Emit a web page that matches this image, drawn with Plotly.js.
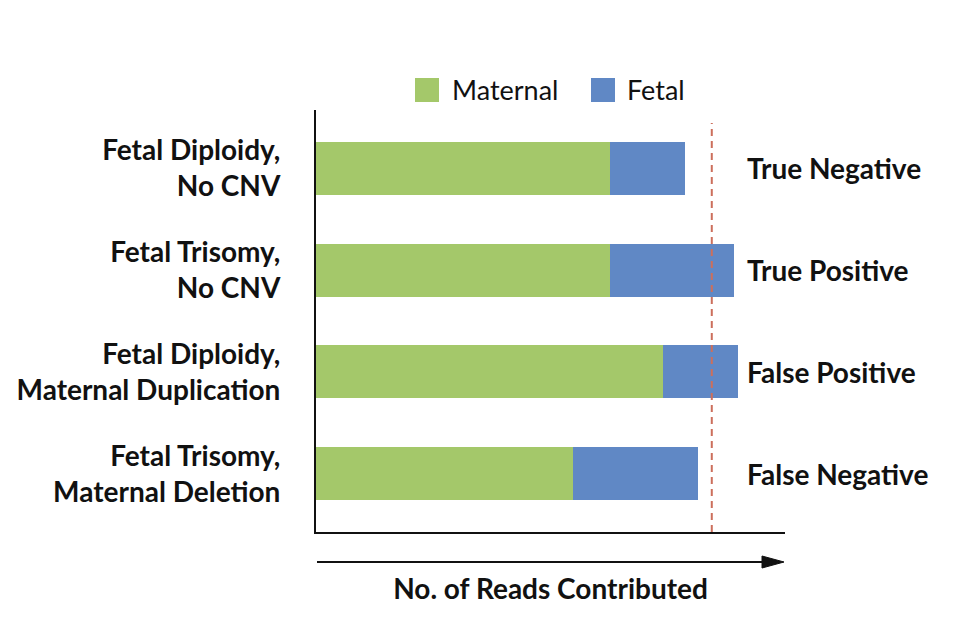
<!DOCTYPE html>
<html>
<head>
<meta charset="utf-8">
<script src="https://cdn.plot.ly/plotly-3.0.1.min.js"></script>
<style>html,body{margin:0;padding:0;background:#fff;}#chart{width:957px;height:619px;}</style>
</head>
<body>
<div id="chart"></div>
<script>
// Data (arbitrary read-count units; maternal baseline = 100)
const categories = [
  "Fetal Diploidy,<br>No CNV",
  "Fetal Trisomy,<br>No CNV",
  "Fetal Diploidy,<br>Maternal Duplication",
  "Fetal Trisomy,<br>Maternal Deletion"
];
const maternalReads = [100, 100, 118, 87.5];
const fetalReads = [25.5, 42.3, 25.5, 42.3];
const outcomes = ["True Negative", "True Positive", "False Positive", "False Negative"];
const threshold = 134.6;
const xMax = 159.5;
const seriesNames = ["Maternal", "Fetal"];
const xTitle = "No. of Reads Contributed";

const FONT = "Lato, 'Open Sans', sans-serif";
const GREEN = "#a4c86a";
const BLUE = "#6088c5";

const traces = [
  {type: "bar", orientation: "h", name: seriesNames[0], y: categories, x: maternalReads,
   marker: {color: GREEN}, hoverinfo: "x+name"},
  {type: "bar", orientation: "h", name: seriesNames[1], y: categories, x: fetalReads,
   marker: {color: BLUE}, hoverinfo: "x+name"}
];

// pixel -> paper helpers (plot area: x 316..785, y 110..532)
const L = 316, R = 785, T = 110, B = 532;
const px = v => (v - L) / (R - L);
const py = v => (B - v) / (B - T);

const annotations = outcomes.map((t, i) => ({
  x: px(745), xref: "paper", xanchor: "left",
  y: categories[i], yref: "y", yanchor: "middle",
  text: "<b>" + t + "</b>", showarrow: false,
  font: {family: FONT, size: 28, color: "#111"}
}));
// legend text
annotations.push({x: px(450), y: py(89), xref: "paper", yref: "paper", xanchor: "left", yanchor: "middle",
  text: seriesNames[0], showarrow: false, font: {family: FONT, size: 27, color: "#111"}});
annotations.push({x: px(625), y: py(89), xref: "paper", yref: "paper", xanchor: "left", yanchor: "middle",
  text: seriesNames[1], showarrow: false, font: {family: FONT, size: 27, color: "#111"}});

const shapes = [
  // threshold line
  {type: "line", xref: "x", yref: "paper", x0: threshold, x1: threshold, y0: 0, y1: py(123),
   line: {color: "#cc6f5c", width: 2, dash: "7px,5px"}},
  // legend squares
  {type: "rect", xref: "paper", yref: "paper", x0: px(415), x1: px(439), y0: py(102), y1: py(78),
   fillcolor: GREEN, line: {width: 0}},
  {type: "rect", xref: "paper", yref: "paper", x0: px(591), x1: px(615), y0: py(102), y1: py(78),
   fillcolor: BLUE, line: {width: 0}},
  // arrow shaft
  {type: "line", xref: "paper", yref: "paper", x0: px(317), x1: px(765), y0: py(562), y1: py(562),
   line: {color: "#111", width: 2}},
  // arrow head
  {type: "path", xref: "paper", yref: "paper",
   path: "M" + px(762) + "," + py(556) + " L" + px(784) + "," + py(562) + " L" + px(762) + "," + py(568) + " Z",
   fillcolor: "#111", line: {color: "#111", width: 1}}
];

const layout = {
  width: 957, height: 619,
  margin: {l: L, r: 957 - R, t: T, b: 619 - B, pad: 0},
  paper_bgcolor: "#fff", plot_bgcolor: "#fff",
  barmode: "stack",
  bargap: 0.48,
  showlegend: false,
  font: {family: FONT, color: "#111"},
  xaxis: {
    range: [0, xMax], showgrid: false, zeroline: false, showticklabels: false, ticks: "",
    showline: true, linecolor: "#111", linewidth: 2, fixedrange: true,
    title: {text: "<b>" + xTitle + "</b>", font: {family: FONT, size: 28, color: "#111"}, standoff: 46}
  },
  yaxis: {
    type: "category", categoryorder: "array", categoryarray: categories,
    range: [3.57, -0.57], showgrid: false, zeroline: false, ticks: "",
    showline: true, linecolor: "#111", linewidth: 2, ticklabelstandoff: 28,
    tickfont: {family: FONT, size: 28, color: "#111", weight: "bold"}, fixedrange: true
  },
  annotations: annotations,
  shapes: shapes
};

Plotly.newPlot("chart", traces, layout, {displayModeBar: false, staticPlot: true});
</script>
</body>
</html>
